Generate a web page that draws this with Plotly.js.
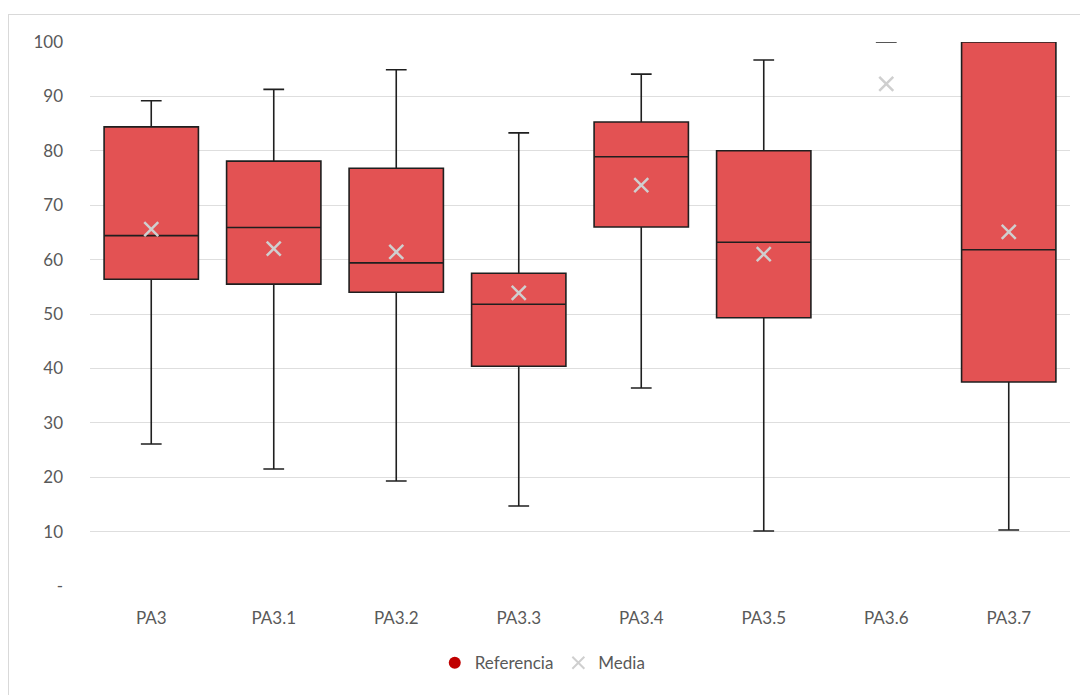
<!DOCTYPE html>
<html>
<head>
<meta charset="utf-8">
<script src="https://cdn.plot.ly/plotly-3.0.1.min.js"></script>
<style>
  html, body { margin:0; padding:0; background:#fff; }
  #chart { width:1080px; height:695px; }
  #frame { position:absolute; left:8px; top:14px; width:1080px; height:690px; border:1px solid #d9d9d9; pointer-events:none; }
</style>
</head>
<body>
<div id="chart"></div>
<div id="frame"></div>
<script>
const categories = ["PA3","PA3.1","PA3.2","PA3.3","PA3.4","PA3.5","PA3.6","PA3.7"];
const lowerWhisker = [26.1, 21.5, 19.3, 14.7, 36.4, 10.1, 100, 10.3];
const q1Values     = [56.4, 55.5, 54.0, 40.4, 66.0, 49.3, 100, 37.5];
const medianValues = [64.4, 65.9, 59.4, 51.8, 78.9, 63.2, 100, 61.8];
const q3Values     = [84.4, 78.1, 76.8, 57.5, 85.3, 80.0, 100, 100];
const upperWhisker = [89.2, 91.3, 94.9, 83.3, 94.1, 96.7, 100, 100];
const meanValues   = [65.6, 62.0, 61.4, 53.9, 73.7, 61.0, 92.3, 65.1];
const yTickVals  = [0,10,20,30,40,50,60,70,80,90,100];
const yTickText  = ["-","10","20","30","40","50","60","70","80","90","100"];

const fullIdx = [0,1,2,3,4,5,7];
const flatIdx = [6];
const pick = (arr, idx) => idx.map(i => arr[i]);

function boxTrace(idx, w) {
  return {
    type: 'box',
    x: pick(categories, idx),
    q1: pick(q1Values, idx),
    median: pick(medianValues, idx),
    q3: pick(q3Values, idx),
    lowerfence: pick(lowerWhisker, idx),
    upperfence: pick(upperWhisker, idx),
    fillcolor: '#E35253',
    line: { color: '#1f1f1f', width: 1.6 },
    whiskerwidth: 0.22,
    width: w,
    boxpoints: false,
    showlegend: false,
    hoverinfo: 'skip'
  };
}

const traces = [
  boxTrace(fullIdx, 0.77),
  boxTrace(flatIdx, 0.17),
  {
    type: 'scatter', mode: 'markers', name: 'Referencia',
    x: [null], y: [null],
    marker: { color: '#C00000', size: 10, symbol: 'circle' }
  },
  {
    type: 'scatter', mode: 'markers', name: 'Media',
    x: categories, y: meanValues,
    marker: { symbol: 'x-thin-open', size: 14, color: '#cfcfcf', line: { color: '#cfcfcf', width: 2.5 } }
  }
];

const layout = {
  width: 1080, height: 695,
  margin: { l: 90, r: 10, t: 42, b: 109 },
  paper_bgcolor: '#ffffff', plot_bgcolor: '#ffffff',
  font: { family: 'Lato, "Open Sans", sans-serif', size: 16, color: '#595959' },
  showlegend: true,
  legend: {
    orientation: 'h', x: 0.462, xanchor: 'center', y: -0.142, yanchor: 'middle',
    font: { size: 17, color: '#595959' }, itemsizing: 'constant', traceorder: 'normal',
    itemwidth: 30
  },
  xaxis: {
    type: 'category', categoryorder: 'array', categoryarray: categories,
    range: [-0.5, 7.5],
    showgrid: false, zeroline: false, showline: false, ticks: '',
    ticklabelstandoff: 20,
    tickfont: { size: 17, color: '#595959' }
  },
  yaxis: {
    range: [0, 100], tickvals: yTickVals, ticktext: yTickText,
    showgrid: true, gridcolor: '#dedede', gridwidth: 1,
    zeroline: false, showline: false, ticks: '',
    ticklabelstandoff: 26,
    tickfont: { size: 17, color: '#595959' }
  }
};

Plotly.newPlot('chart', traces, layout, { displayModeBar: false, staticPlot: true });
</script>
</body>
</html>
